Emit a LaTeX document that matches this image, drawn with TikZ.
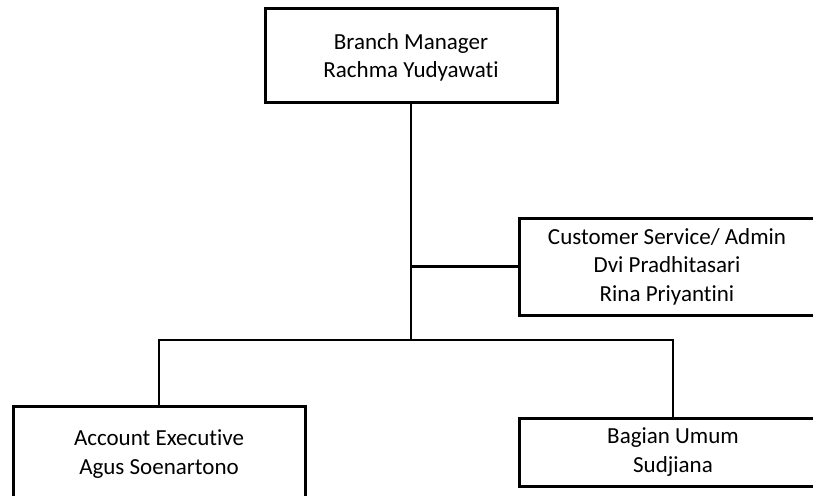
\documentclass[tikz,border=0pt]{standalone}
\usepackage{fontspec}
\setmainfont{Carlito}[Ligatures={NoCommon}]
\begin{document}
\begin{tikzpicture}[x=1pt,y=-1pt,
  box/.style={draw=black, line width=3pt, align=center, inner sep=0pt, font=\fontsize{23}{28.5}\selectfont},
  conn/.style={draw=black, line width=2.6pt}]
\useasboundingbox (0,0) rectangle (813,495);
\clip (0,0) rectangle (813,495);
\fill[white] (0,0) rectangle (813,495);
\node[box, minimum width=292pt, minimum height=93pt, text depth=0pt] (bm) at (411,55.5) {Branch Manager\\Rachma Yudyawati};
\node[box, minimum width=296pt, minimum height=97pt] (cs) at (667,266.5) {Customer Service/ Admin\\Dvi Pradhitasari\\Rina Priyantini};
\node[box, minimum width=292pt, minimum height=96pt] (ae) at (159,454) {Account Executive\\Agus Soenartono};
\node[box, minimum width=308pt, minimum height=68pt] (bu) at (673,452) {Bagian Umum\\Sudjiana};
\coordinate (jb) at (411,340);
\draw[conn] (bm.south) -- (jb);
\draw[conn] (bm.south |- cs.west) -- (cs.west);
\draw[conn] (ae.north) |- (jb) -| (bu.north);
\end{tikzpicture}
\end{document}
